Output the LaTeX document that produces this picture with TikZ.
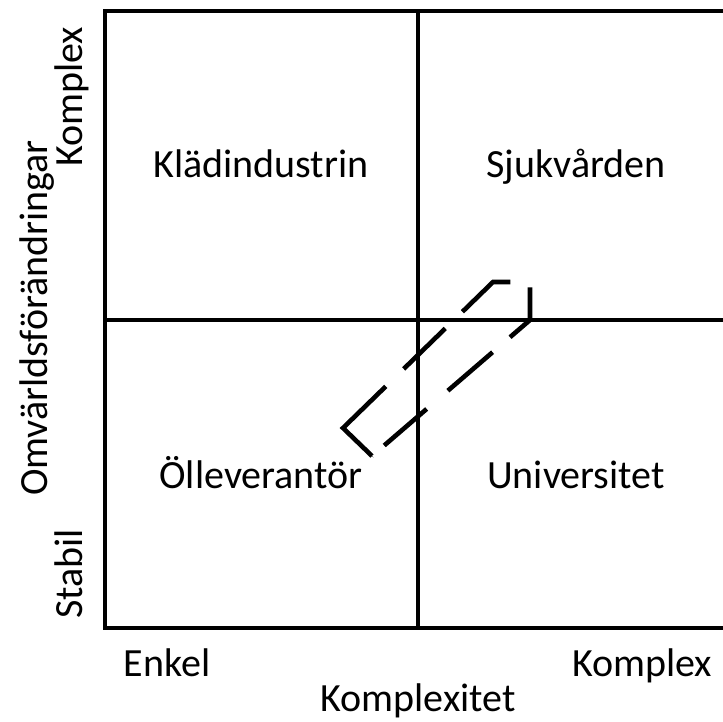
\documentclass[tikz,border=0pt]{standalone}
\usepackage{fontspec}
\setmainfont{Carlito}
\begin{document}
\begin{tikzpicture}[x=1pt,y=-1pt,
  frame/.style={line width=4.6pt},
  lbl/.style={font=\fontsize{40}{46}\selectfont, inner sep=0pt, anchor=base},
  grp/.style={line width=4.6pt, line join=miter,
    dash pattern=on 100pt off 25pt on 58pt off 24pt on 60pt off 25pt on 59pt off 23pt on 59pt off 28pt on 56pt off 16pt}]
  \useasboundingbox (0,0) rectangle (723,722);
  % quadrant frame
  \coordinate (tl) at (105,11);
  \coordinate (tr) at (723,11);
  \coordinate (bl) at (105,628);
  \coordinate (br) at (723,628);
  \draw[frame, line join=miter] (tr) -- (tl) -- (bl) -- (br);
  \coordinate (vt) at (418,11);
  \coordinate (vb) at (418,628);
  \coordinate (hl) at (105,320);
  \coordinate (hr) at (723,320);
  \draw[frame] (vt) -- (vb);
  \draw[frame] (hl) -- (hr);
  % quadrant labels (positions are baselines)
  \node[lbl] (k1) at (261,178) {Klädindustrin};
  \node[lbl] (k2) at (576,178) {Sjukvården};
  \node[lbl] (k3) at (261,488) {Ölleverantör};
  \node[lbl] (k4) at (576,488) {Universitet};
  % axis labels
  \node[lbl] (xe) at (167,676) {Enkel};
  \node[lbl] (xk) at (642,676) {Komplex};
  \node[lbl] (xt) at (418,711) {Komplexitet};
  \node[lbl, rotate=90] (yk) at (82,97) {Komplex};
  \node[lbl, rotate=90] (yt) at (47,318) {Omvärldsförändringar};
  \node[lbl, rotate=90] (ys) at (82,574) {Stabil};
  % dashed grouping outline
  \coordinate (ga) at (343,428);
  \coordinate (gb) at (493,282);
  \coordinate (gc) at (530,282);
  \coordinate (gd) at (530,320);
  \coordinate (ge) at (372,456);
  \draw[grp] (ge) -- (ga) -- (gb) -- (gc) -- (gd) -- (ge);
\end{tikzpicture}
\end{document}
